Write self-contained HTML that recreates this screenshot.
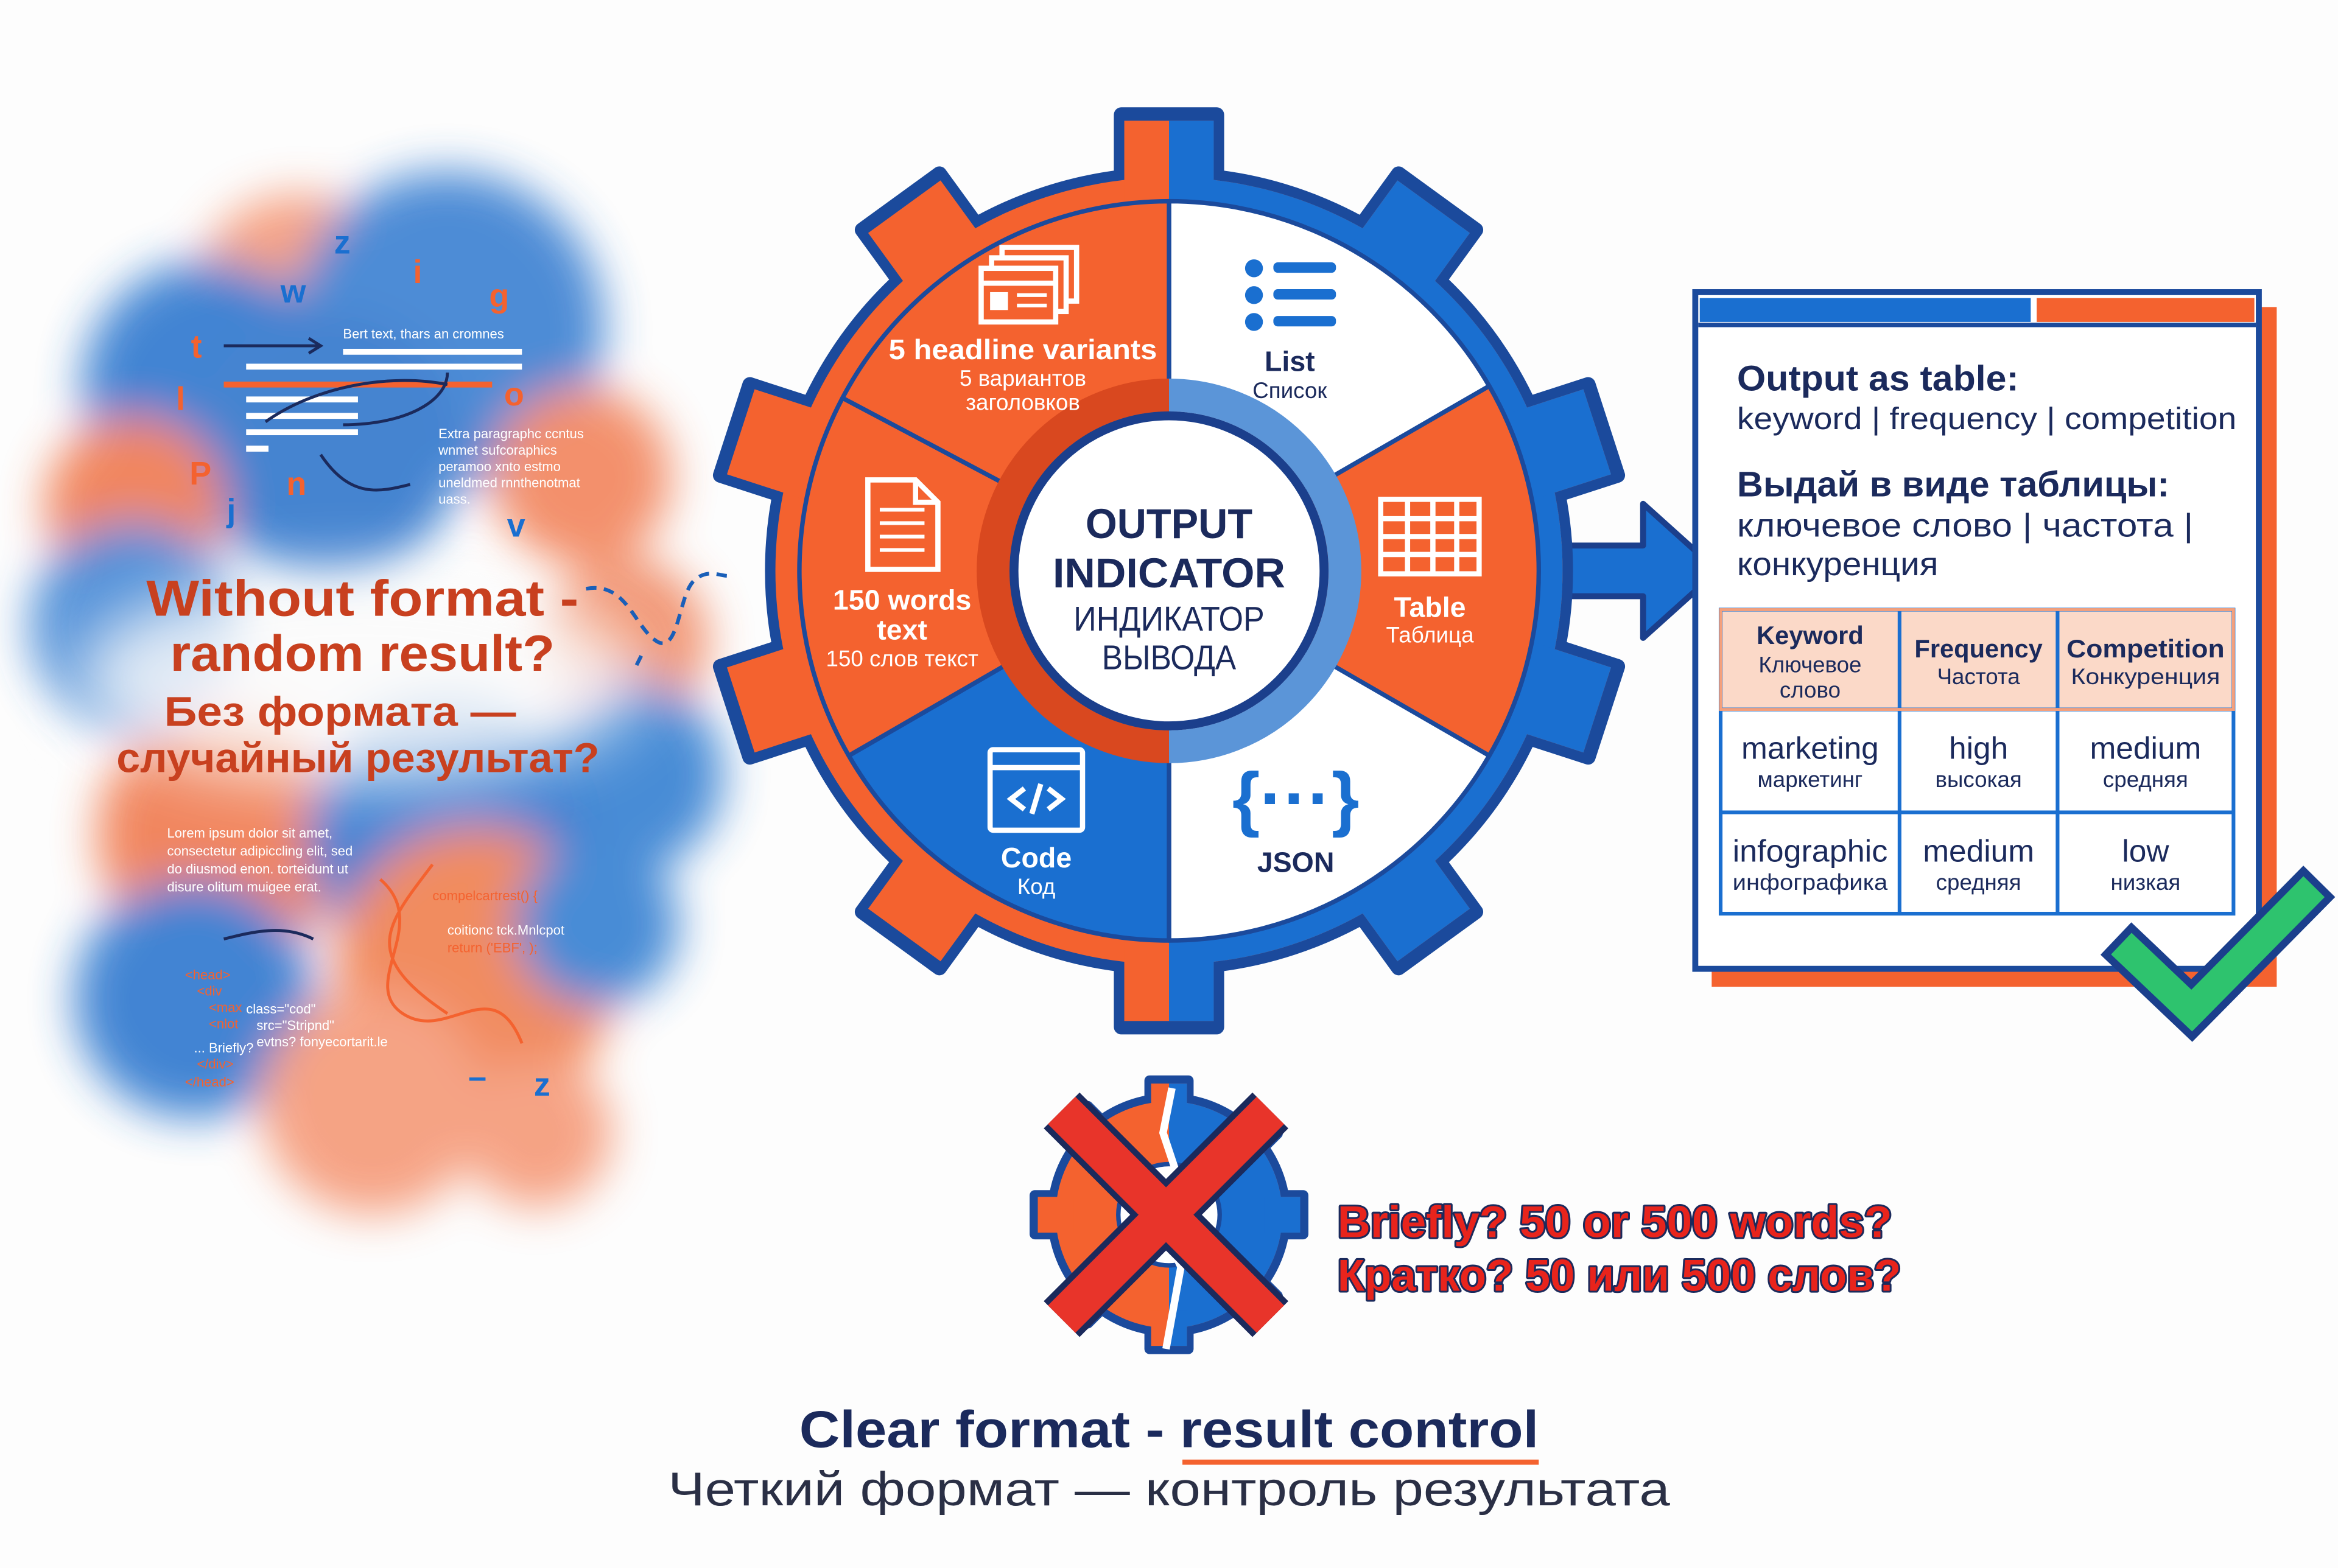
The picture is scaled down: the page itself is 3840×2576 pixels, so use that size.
<!DOCTYPE html>
<html><head><meta charset="utf-8">
<style>html,body{margin:0;padding:0;background:#fdfdfd;}svg{display:block;}text{font-family:"Liberation Sans","DejaVu Sans",sans-serif;}</style>
</head><body>
<svg width="3840" height="2576" viewBox="0 0 1568 1052" xmlns="http://www.w3.org/2000/svg">
<defs>
<filter id="blur" x="-30%" y="-30%" width="160%" height="160%"><feGaussianBlur stdDeviation="15"/></filter>
<filter id="blur2" x="-50%" y="-50%" width="200%" height="200%"><feGaussianBlur stdDeviation="22"/></filter>
<clipPath id="rightHalf"><rect x="784" y="0" width="800" height="1052"/></clipPath>
<clipPath id="rightHalfB"><rect x="784" y="600" width="300" height="400"/></clipPath>
</defs>
<rect width="1568" height="1052" fill="#fdfdfd"/>

<!-- LEFT BLURRED CLOUD -->
<g filter="url(#blur)" opacity="0.9">
<circle cx="200" cy="200" r="70" fill="#f59a78"/>
<circle cx="300" cy="220" r="105" fill="#3a80d2"/>
<circle cx="140" cy="260" r="85" fill="#2f78cf"/>
<circle cx="390" cy="320" r="60" fill="#f2855d"/>
<circle cx="220" cy="300" r="90" fill="#3077cc"/>
<circle cx="90" cy="340" r="60" fill="#f07a50"/>
<circle cx="90" cy="420" r="70" fill="#3f85d4"/>
<circle cx="420" cy="430" r="55" fill="#f08a65"/>
<circle cx="420" cy="520" r="65" fill="#3580d2"/>
<circle cx="150" cy="560" r="85" fill="#f07a50"/>
<circle cx="300" cy="560" r="95" fill="#2f78cf"/>
<circle cx="130" cy="670" r="80" fill="#2f78cf"/>
<circle cx="320" cy="650" r="95" fill="#f0804f"/>
<circle cx="250" cy="740" r="75" fill="#f59a78"/>
<circle cx="400" cy="620" r="55" fill="#3580d2"/>
<circle cx="360" cy="760" r="50" fill="#f59a78"/>
</g>
<ellipse cx="240" cy="455" rx="190" ry="70" fill="#fbfbfb" opacity="0.85" filter="url(#blur2)"/>

<!-- Scattered letters -->
<g font-weight="bold" font-size="22">
<text x="224" y="170" fill="#1a6fd0">z</text>
<text x="188" y="203" fill="#1a6fd0">w</text>
<text x="277" y="190" fill="#f4622f">i</text>
<text x="328" y="206" fill="#f4622f">g</text>
<text x="128" y="240" fill="#f4622f">t</text>
<text x="118" y="275" fill="#f4622f">l</text>
<text x="338" y="272" fill="#f4622f">o</text>
<text x="127" y="325" fill="#f4622f">P</text>
<text x="192" y="332" fill="#f4622f">n</text>
<text x="152" y="350" fill="#1a6fd0">j</text>
<text x="340" y="360" fill="#1a6fd0">v</text>
<text x="358" y="735" fill="#1a6fd0">z</text>
<text x="314" y="730" fill="#1a6fd0">–</text>
</g>
<text x="230" y="227" font-size="9" fill="#fff">Bert text, thars an cromnes</text>
<g stroke="#fff" stroke-width="4">
<line x1="230" y1="236" x2="350" y2="236"/><line x1="165" y1="246" x2="350" y2="246"/>
<line x1="165" y1="268" x2="240" y2="268"/><line x1="165" y1="279" x2="240" y2="279"/><line x1="165" y1="290" x2="240" y2="290"/><line x1="165" y1="301" x2="180" y2="301"/>
</g>
<line x1="150" y1="258" x2="330" y2="258" stroke="#f4622f" stroke-width="4"/>
<g fill="none" stroke="#1b2a5c" stroke-width="2">
<path d="M150 232 L215 232 M207 227 L215 232 L207 237"/>
<path d="M178 283 C210 260 260 250 300 258"/>
<path d="M300 250 C300 270 270 285 230 285"/>
<path d="M215 305 C235 335 255 330 275 325"/>
<path d="M210 630 C190 620 170 625 150 630"/>
</g>
<g font-size="9" fill="#fff">
<text x="294" y="294">Extra paragraphc ccntus</text>
<text x="294" y="305">wnmet sufcoraphics</text>
<text x="294" y="316">peramoo xnto estmo</text>
<text x="294" y="327">uneldmed rnnthenotmat</text>
<text x="294" y="338">uass.</text>
<text x="112" y="562">Lorem ipsum dolor sit amet,</text>
<text x="112" y="574">consectetur adipiccling elit, sed</text>
<text x="112" y="586">do diusmod enon. torteidunt ut</text>
<text x="112" y="598">disure olitum muigee erat.</text>
<text x="300" y="627">coitionc tck.Mnlcpot</text>
<text x="165" y="680">class="cod"</text>
<text x="172" y="691">src="Stripnd"</text>
<text x="172" y="702">evtns? fonyecortarit.le</text>
<text x="130" y="706">... Briefly?</text>
</g>
<g font-size="9" fill="#f4622f">
<text x="290" y="604">compelcartrest() {</text>
<text x="300" y="639">return ('EBF', );</text>
<text x="124" y="657">&lt;head&gt;</text>
<text x="132" y="668">&lt;div</text>
<text x="140" y="679">&lt;max</text>
<text x="140" y="690">&lt;nlot</text>
<text x="132" y="717">&lt;/div&gt;</text>
<text x="124" y="729">&lt;/head&gt;</text>
</g>
<path d="M255 590 C290 620 240 660 270 680 C300 700 330 650 350 700 M290 580 C260 620 240 640 300 680" fill="none" stroke="#f4622f" stroke-width="2"/>

<!-- Left title -->
<g font-weight="bold" fill="#c8401f" text-anchor="middle">
<text x="243" y="413" font-size="34" textLength="290" lengthAdjust="spacingAndGlyphs">Without format -</text>
<text x="243" y="450" font-size="34" textLength="258" lengthAdjust="spacingAndGlyphs">random result?</text>
<text x="228" y="487" font-size="28" textLength="236" lengthAdjust="spacingAndGlyphs">Без формата —</text>
<text x="240" y="518" font-size="28" textLength="324" lengthAdjust="spacingAndGlyphs">случайный результат?</text>
</g>
<path d="M393 395 C420 390 425 420 440 430 C455 440 455 400 465 390 C475 380 485 388 490 386 M430 440 L425 450" fill="none" stroke="#1a5fb8" stroke-width="2.5" stroke-dasharray="7 5"/>

<!-- ARROW -->
<path d="M1050 366 L1102 366 L1102 338 L1152 383 L1102 428 L1102 400 L1050 400 Z" fill="#1a6fd0" stroke="#1b3f8c" stroke-width="4" stroke-linejoin="round"/>

<!-- MAIN GEAR -->
<g transform="translate(784,383)">
 <g stroke="#1b4a9c" stroke-width="10" stroke-linejoin="round">
  <circle r="266" fill="#1b4a9c"/>
  <g fill="#1b4a9c">
  <rect x="-32" y="-306" width="64" height="60" transform="rotate(0)"/>
  <rect x="-32" y="-306" width="64" height="60" transform="rotate(36)"/>
  <rect x="-32" y="-306" width="64" height="60" transform="rotate(72)"/>
  <rect x="-32" y="-306" width="64" height="60" transform="rotate(108)"/>
  <rect x="-32" y="-306" width="64" height="60" transform="rotate(144)"/>
  <rect x="-32" y="-306" width="64" height="60" transform="rotate(180)"/>
  <rect x="-32" y="-306" width="64" height="60" transform="rotate(216)"/>
  <rect x="-32" y="-306" width="64" height="60" transform="rotate(252)"/>
  <rect x="-32" y="-306" width="64" height="60" transform="rotate(288)"/>
  <rect x="-32" y="-306" width="64" height="60" transform="rotate(324)"/>
  </g>
 </g>
 <g fill="#f4622f">
  <circle r="264"/>
  <rect x="-30" y="-302" width="60" height="60" transform="rotate(0)"/>
  <rect x="-30" y="-302" width="60" height="60" transform="rotate(36)"/>
  <rect x="-30" y="-302" width="60" height="60" transform="rotate(72)"/>
  <rect x="-30" y="-302" width="60" height="60" transform="rotate(108)"/>
  <rect x="-30" y="-302" width="60" height="60" transform="rotate(144)"/>
  <rect x="-30" y="-302" width="60" height="60" transform="rotate(180)"/>
  <rect x="-30" y="-302" width="60" height="60" transform="rotate(216)"/>
  <rect x="-30" y="-302" width="60" height="60" transform="rotate(252)"/>
  <rect x="-30" y="-302" width="60" height="60" transform="rotate(288)"/>
  <rect x="-30" y="-302" width="60" height="60" transform="rotate(324)"/>
 </g>
</g>
<g clip-path="url(#rightHalf)">
<g transform="translate(784,383)" fill="#1a6fd0">
  <circle r="264"/>
  <rect x="-30" y="-302" width="60" height="60" transform="rotate(0)"/>
  <rect x="-30" y="-302" width="60" height="60" transform="rotate(36)"/>
  <rect x="-30" y="-302" width="60" height="60" transform="rotate(72)"/>
  <rect x="-30" y="-302" width="60" height="60" transform="rotate(108)"/>
  <rect x="-30" y="-302" width="60" height="60" transform="rotate(144)"/>
  <rect x="-30" y="-302" width="60" height="60" transform="rotate(180)"/>
</g>
</g>
<g transform="translate(784,383)" stroke="#1b4a9c" stroke-width="3" stroke-linejoin="round">
 <path d="M0 0 L0 -248 A248 248 0 0 1 214.8 -124 Z" fill="#ffffff"/>
 <path d="M0 0 L214.8 -124 A248 248 0 0 1 214.8 124 Z" fill="#f4622f"/>
 <path d="M0 0 L214.8 124 A248 248 0 0 1 0 248 Z" fill="#ffffff"/>
 <path d="M0 0 L0 248 A248 248 0 0 1 -214.8 124 Z" fill="#1a6fd0"/>
 <path d="M0 0 L-214.8 124 A248 248 0 0 1 -219 -116 Z" fill="#f4622f"/>
 <path d="M0 0 L-219 -116 A248 248 0 0 1 0 -248 Z" fill="#f4622f"/>
 <path d="M0 -118 A118 118 0 0 1 0 118" fill="none" stroke="#5b95d8" stroke-width="22"/>
 <path d="M0 118 A118 118 0 0 1 0 -118" fill="none" stroke="#d9481f" stroke-width="22"/>
 <circle r="104" fill="#fff" stroke="#1b3f8c" stroke-width="6"/>
</g>

<!-- center text -->
<g text-anchor="middle" fill="#1b2a5c">
<text x="784" y="361" font-size="28" font-weight="bold" textLength="112" lengthAdjust="spacingAndGlyphs">OUTPUT</text>
<text x="784" y="394" font-size="28" font-weight="bold" textLength="156" lengthAdjust="spacingAndGlyphs">INDICATOR</text>
<text x="784" y="423" font-size="23" textLength="128" lengthAdjust="spacingAndGlyphs">ИНДИКАТОР</text>
<text x="784" y="449" font-size="23" textLength="90" lengthAdjust="spacingAndGlyphs">ВЫВОДА</text>
</g>

<!-- segment labels -->
<g text-anchor="middle">
<text x="686" y="241" font-size="19" font-weight="bold" fill="#fff" textLength="180" lengthAdjust="spacingAndGlyphs">5 headline variants</text>
<text x="686" y="259" font-size="15" fill="#fff">5 вариантов</text>
<text x="686" y="275" font-size="15" fill="#fff">заголовков</text>
<text x="865" y="249" font-size="19" font-weight="bold" fill="#1b2a5c">List</text>
<text x="865" y="267" font-size="15" fill="#1b2a5c">Список</text>
<text x="959" y="414" font-size="19" font-weight="bold" fill="#fff">Table</text>
<text x="959" y="431" font-size="15" fill="#fff">Таблица</text>
<text x="869" y="585" font-size="19" font-weight="bold" fill="#1b2a5c">JSON</text>
<text x="695" y="582" font-size="19" font-weight="bold" fill="#fff">Code</text>
<text x="695" y="600" font-size="15" fill="#fff">Код</text>
<text x="605" y="409" font-size="19" font-weight="bold" fill="#fff">150 words</text>
<text x="605" y="429" font-size="19" font-weight="bold" fill="#fff">text</text>
<text x="605" y="447" font-size="15" fill="#fff">150 слов текст</text>
</g>

<!-- icons -->
<g fill="none" stroke="#fff" stroke-width="3.5">
 <rect x="672" y="166" width="50" height="36"/>
 <rect x="665" y="173" width="50" height="36" fill="#f4622f"/>
 <rect x="658" y="180" width="50" height="36" fill="#f4622f"/>
 <line x1="658" y1="190" x2="708" y2="190"/>
 <rect x="664" y="196" width="12" height="12" fill="#fff" stroke="none"/>
 <line x1="682" y1="198" x2="702" y2="198" stroke-width="2.5"/><line x1="682" y1="205" x2="702" y2="205" stroke-width="2.5"/>
 <path d="M582 322 L614 322 L629 337 L629 382 L582 382 Z"/>
 <path d="M614 322 L614 337 L629 337"/>
 <line x1="590" y1="342" x2="620" y2="342" stroke-width="2.5"/><line x1="590" y1="351" x2="620" y2="351" stroke-width="2.5"/><line x1="590" y1="360" x2="620" y2="360" stroke-width="2.5"/><line x1="590" y1="369" x2="620" y2="369" stroke-width="2.5"/>
 <rect x="926" y="335" width="66" height="50"/>
 <line x1="926" y1="348" x2="992" y2="348"/><line x1="926" y1="360" x2="992" y2="360"/><line x1="926" y1="372" x2="992" y2="372"/>
 <line x1="944" y1="335" x2="944" y2="385"/><line x1="961" y1="335" x2="961" y2="385"/><line x1="977" y1="335" x2="977" y2="385"/>
 <rect x="664" y="503" width="62" height="54" rx="2"/>
 <line x1="664" y1="515" x2="726" y2="515"/>
 <path d="M687 529 L678 536 L687 543 M703 529 L712 536 L703 543 M698 526 L692 546"/>
</g>
<g fill="#1a6fd0">
 <circle cx="841" cy="180" r="6"/><circle cx="841" cy="198" r="6"/><circle cx="841" cy="216" r="6"/>
 <rect x="854" y="176" width="42" height="7" rx="3"/><rect x="854" y="194" width="42" height="7" rx="3"/><rect x="854" y="212" width="42" height="7" rx="3"/>
</g>
<text x="869" y="552" font-size="48" font-weight="bold" fill="#1a6fd0" text-anchor="middle">{···}</text>

<!-- RIGHT PANEL -->
<rect x="1148" y="206" width="379" height="456" fill="#f4622f"/>
<rect x="1137" y="196" width="378" height="454" fill="#fff" stroke="#1b4a9c" stroke-width="4"/>
<rect x="1140" y="200" width="222" height="16" fill="#1a6fd0"/>
<rect x="1366" y="200" width="146" height="16" fill="#f4622f"/>
<line x1="1139" y1="218" x2="1513" y2="218" stroke="#1b4a9c" stroke-width="3"/>
<g fill="#1b2a5c">
<text x="1165" y="262" font-size="24" font-weight="bold" textLength="189" lengthAdjust="spacingAndGlyphs">Output as table:</text>
<text x="1165" y="288" font-size="21" textLength="335" lengthAdjust="spacingAndGlyphs">keyword | frequency | competition</text>
<text x="1165" y="333" font-size="24" font-weight="bold" textLength="290" lengthAdjust="spacingAndGlyphs">Выдай в виде таблицы:</text>
<text x="1165" y="360" font-size="22" textLength="306" lengthAdjust="spacingAndGlyphs">ключевое слово | частота |</text>
<text x="1165" y="386" font-size="22" textLength="135" lengthAdjust="spacingAndGlyphs">конкуренция</text>
</g>
<rect x="1154" y="409" width="344" height="67" fill="#fbd9c8"/>
<g fill="none" stroke="#1a6fd0" stroke-width="2.5">
<rect x="1154" y="409" width="344" height="204"/>
<line x1="1154" y1="476" x2="1498" y2="476"/><line x1="1154" y1="545" x2="1498" y2="545"/>
<line x1="1274" y1="409" x2="1274" y2="613"/><line x1="1380" y1="409" x2="1380" y2="613"/>
</g>
<rect x="1154" y="409" width="344" height="67" fill="none" stroke="#f4a07c" stroke-width="2"/>
<g text-anchor="middle" fill="#1b2a5c">
<text x="1214" y="432" font-size="17" font-weight="bold">Keyword</text>
<text x="1214" y="451" font-size="15">Ключевое</text>
<text x="1214" y="468" font-size="15">слово</text>
<text x="1327" y="441" font-size="17" font-weight="bold">Frequency</text>
<text x="1327" y="459" font-size="15">Частота</text>
<text x="1439" y="441" font-size="17" font-weight="bold" textLength="106" lengthAdjust="spacingAndGlyphs">Competition</text>
<text x="1439" y="459" font-size="15" textLength="100" lengthAdjust="spacingAndGlyphs">Конкуренция</text>
<text x="1214" y="509" font-size="21">marketing</text>
<text x="1214" y="528" font-size="15">маркетинг</text>
<text x="1327" y="509" font-size="21">high</text>
<text x="1327" y="528" font-size="15">высокая</text>
<text x="1439" y="509" font-size="21">medium</text>
<text x="1439" y="528" font-size="15">средняя</text>
<text x="1214" y="578" font-size="21" textLength="104" lengthAdjust="spacingAndGlyphs">infographic</text>
<text x="1214" y="597" font-size="15" textLength="104" lengthAdjust="spacingAndGlyphs">инфографика</text>
<text x="1327" y="578" font-size="21">medium</text>
<text x="1327" y="597" font-size="15">средняя</text>
<text x="1439" y="578" font-size="21">low</text>
<text x="1439" y="597" font-size="15">низкая</text>
</g>
<path d="M1430 640 L1470 678 L1545 602" fill="none" stroke="#1b3f8c" stroke-width="30" stroke-linejoin="miter" stroke-linecap="square"/>
<path d="M1430 640 L1470 678 L1545 602" fill="none" stroke="#2ec36e" stroke-width="20" stroke-linejoin="miter" stroke-linecap="square"/>

<!-- BROKEN GEAR -->
<g transform="translate(784,815)">
 <g stroke="#1b4a9c" stroke-width="7" stroke-linejoin="round">
  <circle r="78" fill="#1b4a9c"/>
  <g fill="#1b4a9c">
   <rect x="-13" y="-90" width="26" height="24" transform="rotate(0)"/><rect x="-13" y="-90" width="26" height="24" transform="rotate(45)"/><rect x="-13" y="-90" width="26" height="24" transform="rotate(90)"/><rect x="-13" y="-90" width="26" height="24" transform="rotate(135)"/><rect x="-13" y="-90" width="26" height="24" transform="rotate(180)"/><rect x="-13" y="-90" width="26" height="24" transform="rotate(225)"/><rect x="-13" y="-90" width="26" height="24" transform="rotate(270)"/><rect x="-13" y="-90" width="26" height="24" transform="rotate(315)"/>
  </g>
 </g>
 <g fill="#f4622f">
  <circle r="76"/>
  <rect x="-12" y="-88" width="24" height="24" transform="rotate(0)"/><rect x="-12" y="-88" width="24" height="24" transform="rotate(45)"/><rect x="-12" y="-88" width="24" height="24" transform="rotate(90)"/><rect x="-12" y="-88" width="24" height="24" transform="rotate(135)"/><rect x="-12" y="-88" width="24" height="24" transform="rotate(180)"/><rect x="-12" y="-88" width="24" height="24" transform="rotate(225)"/><rect x="-12" y="-88" width="24" height="24" transform="rotate(270)"/><rect x="-12" y="-88" width="24" height="24" transform="rotate(315)"/>
 </g>
</g>
<g clip-path="url(#rightHalfB)">
<g transform="translate(784,815)" fill="#1a6fd0">
  <circle r="76"/>
  <rect x="-12" y="-88" width="24" height="24" transform="rotate(0)"/><rect x="-12" y="-88" width="24" height="24" transform="rotate(45)"/><rect x="-12" y="-88" width="24" height="24" transform="rotate(90)"/><rect x="-12" y="-88" width="24" height="24" transform="rotate(135)"/><rect x="-12" y="-88" width="24" height="24" transform="rotate(180)"/>
</g>
</g>
<circle cx="784" cy="815" r="34" fill="#fff" stroke="#1b4a9c" stroke-width="3"/>
<path d="M786 730 L780 760 L790 790 L778 820 L792 850 L782 905" fill="none" stroke="#fff" stroke-width="5"/>
<path d="M712 745 L852 885 M852 745 L712 885" stroke="#1b2a5c" stroke-width="34"/>
<path d="M712 745 L852 885 M852 745 L712 885" stroke="#e8342a" stroke-width="26"/>

<g font-weight="bold" font-size="30" fill="#e8241c" stroke="#1b2a5c" stroke-width="2.5" paint-order="stroke" stroke-linejoin="round">
<text x="897" y="830" textLength="372" lengthAdjust="spacingAndGlyphs">Briefly? 50 or 500 words?</text>
<text x="897" y="866" textLength="378" lengthAdjust="spacingAndGlyphs">Кратко? 50 или 500 слов?</text>
</g>

<!-- BOTTOM -->
<g text-anchor="middle">
<text x="784" y="971" font-size="35" font-weight="bold" fill="#1b2a5c" textLength="496" lengthAdjust="spacingAndGlyphs">Clear format - result control</text>
<text x="784" y="1010" font-size="32" fill="#2a2f45" textLength="672" lengthAdjust="spacingAndGlyphs">Четкий формат — контроль результата</text>
</g>
<line x1="793" y1="981" x2="1032" y2="981" stroke="#f4622f" stroke-width="3.5"/>
</svg>
</body></html>
